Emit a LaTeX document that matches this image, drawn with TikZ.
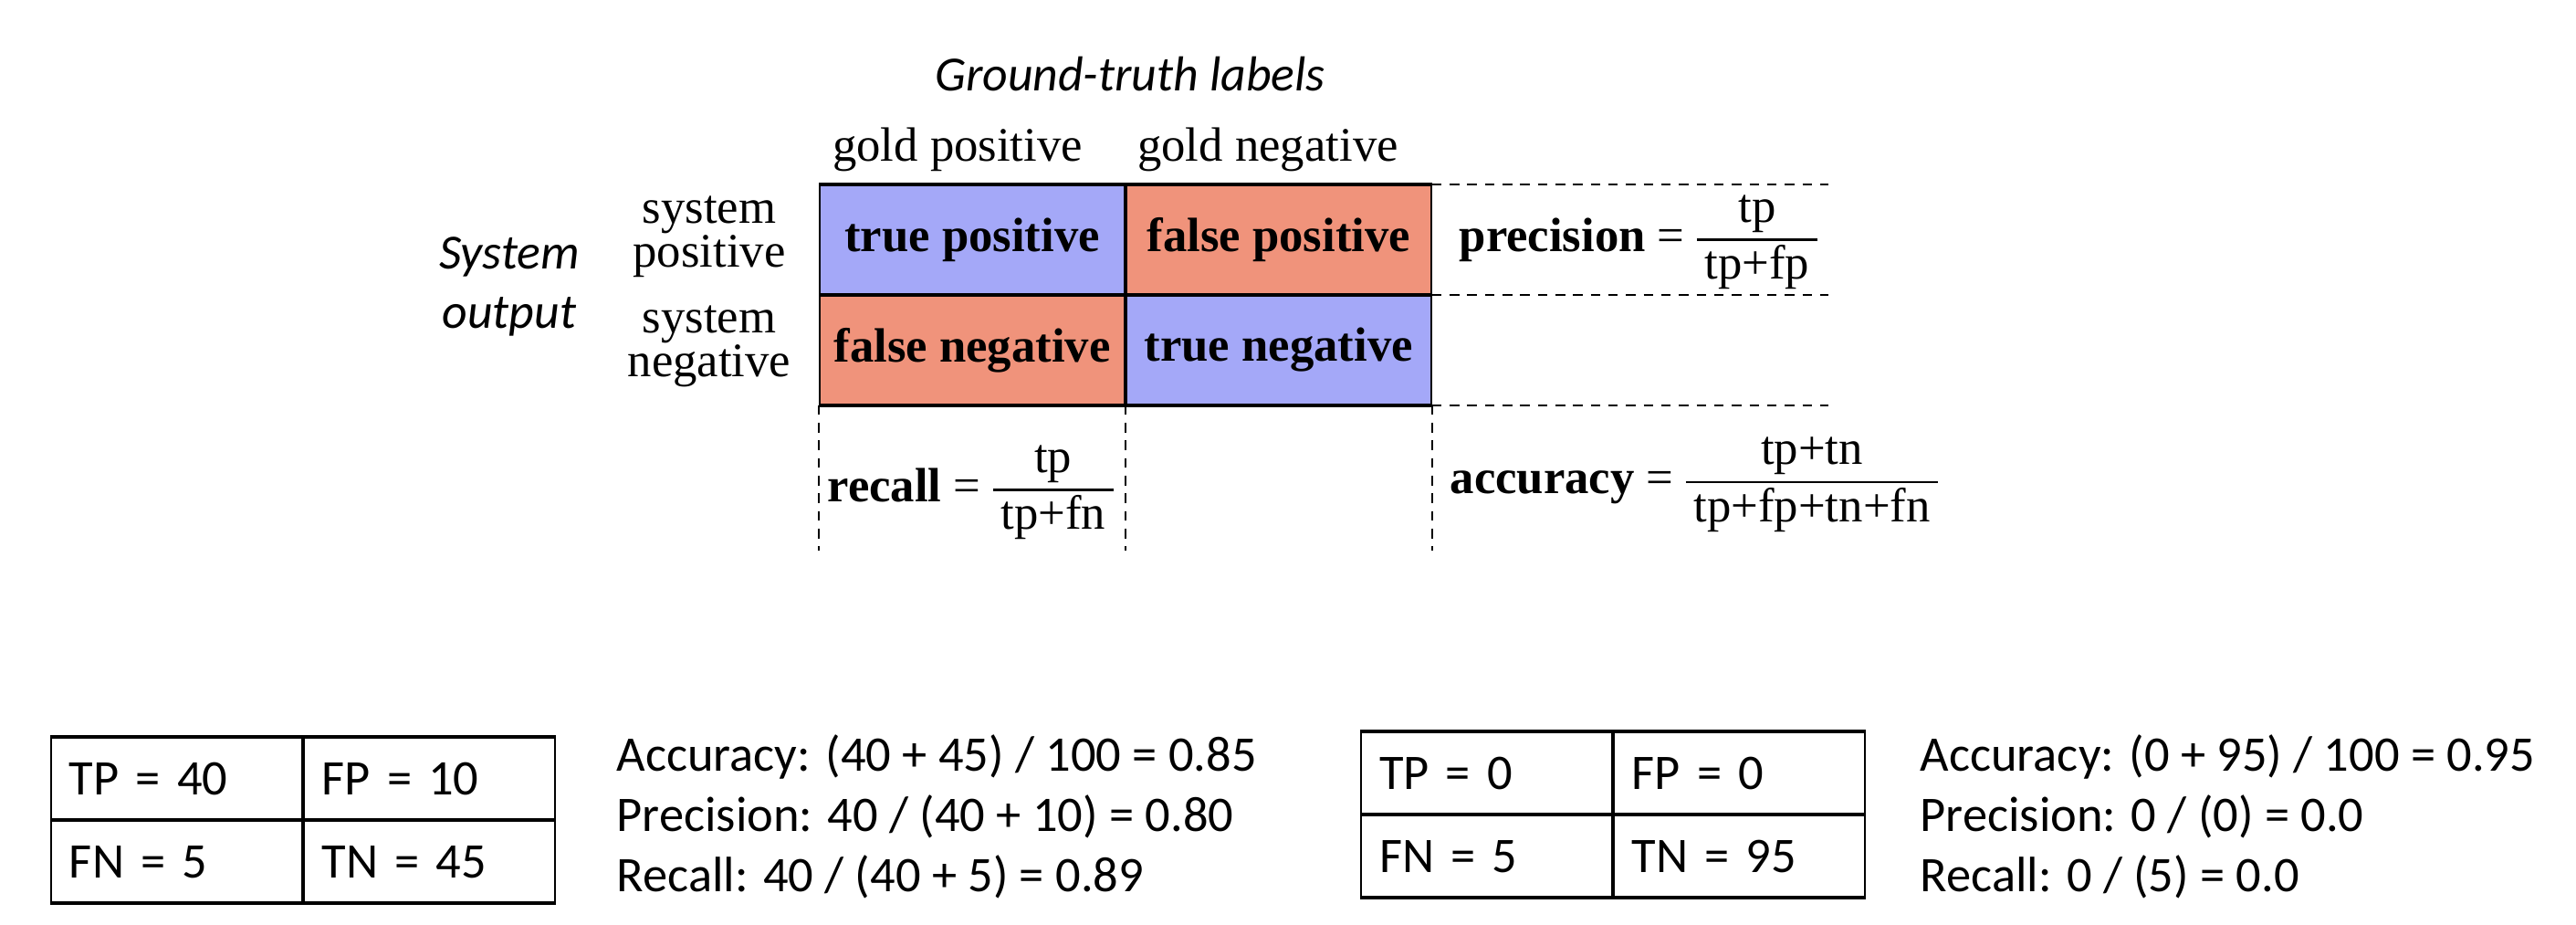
\documentclass[tikz,border=0pt]{standalone}
\usepackage{fontspec}
\usetikzlibrary{positioning}
\setmainfont{Liberation Serif}
\newfontfamily\calibri{Carlito}
\definecolor{goodblue}{RGB}{164,168,248}
\definecolor{badred}{RGB}{240,147,123}
\newcommand{\fracbox}[2]{{\setlength{\arrayrulewidth}{0.8pt}\renewcommand{\arraystretch}{0.95}\begin{tabular}{@{\,}c@{\,}}#1\\\hline #2\end{tabular}}}

\begin{document}
\begin{tikzpicture}[
    cell/.style={draw, line width=0.5pt, minimum width=3.34cm, minimum height=1.19cm, inner sep=0pt, font=\fontsize{15}{18}\selectfont\bfseries},
    head/.style={font=\fontsize{15}{18}\selectfont, inner sep=0pt},
    rowhead/.style={font=\fontsize{15}{13.7}\selectfont, align=center, inner sep=0pt},
    axistitle/.style={font=\calibri\itshape\fontsize{15.3}{18.7}\selectfont, align=center, inner sep=0pt},
    formula/.style={font=\fontsize{15}{18}\selectfont, inner sep=0pt, anchor=west},
    guide/.style={dash pattern=on 3pt off 2.5pt, line width=0.5pt},
    numcell/.style={draw, line width=0.5pt, minimum width=2.75cm, minimum height=0.895cm, text width=2.35cm, inner xsep=0.2cm, inner ysep=0pt, align=left, font=\calibri\fontsize{15.5}{18.5}\selectfont},
    scoreline/.style={anchor=base west, inner sep=0pt, font=\calibri\fontsize{15.5}{18.5}\selectfont},
    ruleline/.style={line width=1.1pt}
]
\useasboundingbox (0,0) rectangle (28.22,-10.12);

% confusion matrix
\node[cell, fill=goodblue] (tp) at (10.65,-2.625) {true positive};
\node[cell, fill=badred, right=0pt of tp] (fp) {false positive};
\node[cell, fill=badred, below=0pt of tp] (fn) {false negative};
\node[cell, fill=goodblue, right=0pt of fn] (tn) {true negative};
\draw[ruleline] (tp.north west) -- (fp.north east);
\draw[ruleline] (fn.north west) -- (tn.north east);
\draw[ruleline] (fn.south west) -- (tn.south east);

\node[axistitle, anchor=base] (truth) at (12.38,-0.99) {Ground-truth labels};
\node[head, anchor=base] (goldpos) at (10.49,-1.76) {gold positive};
\node[head, anchor=base] (goldneg) at (13.89,-1.76) {gold negative};
\node[axistitle] (sysout) at (5.58,-3.14) {System\\output};
\node[rowhead] (syspos) at (7.77,-2.59) {system\\positive};
\node[rowhead] (sysneg) at (7.77,-3.79) {system\\negative};

% dashed guides
\coordinate (dashend) at (20.03,0);
\coordinate (dashfoot) at (0,-6.03);
\draw[guide] (fp.north east) -- (fp.north east -| dashend);
\draw[guide] (tn.north east) -- (tn.north east -| dashend);
\draw[guide] (tn.south east) -- (tn.south east -| dashend);
\draw[guide] (fn.south west) -- (fn.south west |- dashfoot);
\draw[guide] (fn.south east) -- (fn.south east |- dashfoot);
\draw[guide] (tn.south east) -- (tn.south east |- dashfoot);

\node[formula] (prec) at (15.98,-2.625) {\textbf{precision} = \fracbox{tp}{tp+fp}};
\node[formula] (rec) at (9.06,-5.365) {\textbf{recall} = \fracbox{tp}{tp+fn}};
\node[formula] (acc) at (15.88,-5.28) {\textbf{accuracy} = \fracbox{tp+tn}{tp+fp+tn+fn}};

% example 1
\node[numcell] (atp) at (1.935,-8.525) {TP = 40};
\node[numcell, right=0pt of atp] (afp) {FP = 10};
\node[numcell, below=0pt of atp] (afn) {FN = 5};
\node[numcell, right=0pt of afn] (atn) {TN = 45};
\draw[ruleline] (atp.north west) -- (afp.north east);
\draw[ruleline] (afn.north west) -- (atn.north east);
\draw[ruleline] (afn.south west) -- (atn.south east);
\node[scoreline] (aacc) at (6.75,-8.44) {Accuracy: (40 + 45) / 100 = 0.85};
\node[scoreline] (aprec) at (6.75,-9.10) {Precision: 40 / (40 + 10) = 0.80};
\node[scoreline] (arec) at (6.75,-9.76) {Recall: 40 / (40 + 5) = 0.89};

% example 2
\node[numcell] (btp) at (16.285,-8.465) {TP = 0};
\node[numcell, right=0pt of btp] (bfp) {FP = 0};
\node[numcell, below=0pt of btp] (bfn) {FN = 5};
\node[numcell, right=0pt of bfn] (btn) {TN = 95};
\draw[ruleline] (btp.north west) -- (bfp.north east);
\draw[ruleline] (bfn.north west) -- (btn.north east);
\draw[ruleline] (bfn.south west) -- (btn.south east);
\node[scoreline] (bacc) at (21.03,-8.44) {Accuracy: (0 + 95) / 100 = 0.95};
\node[scoreline] (bprec) at (21.03,-9.10) {Precision: 0 / (0) = 0.0};
\node[scoreline] (brec) at (21.03,-9.76) {Recall: 0 / (5) = 0.0};
\end{tikzpicture}
\end{document}
